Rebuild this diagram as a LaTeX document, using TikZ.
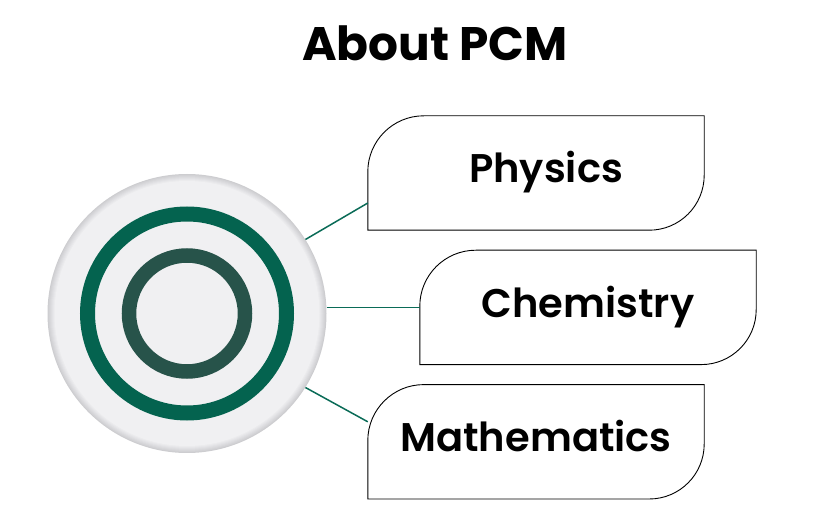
\documentclass[tikz,border=0pt]{standalone}
\usepackage{fontspec}
\setmainfont{Poppins}
\newfontfamily\medfont{Poppins SemiBold}
\usepackage{tikz}
\usetikzlibrary{positioning}
\definecolor{ringgreen}{HTML}{04634F}
\definecolor{ringdark}{HTML}{27534A}
\definecolor{linegreen}{HTML}{0A6B57}
\definecolor{discgray}{HTML}{F1F1F3}
\definecolor{rimgray}{HTML}{CDCDD0}

\begin{document}
\begin{tikzpicture}[
    x=1pt, y=1pt,
    topic/.style={minimum width=336pt, minimum height=114pt, inner sep=0pt, text height=30pt, text depth=10pt, font=\medfont\fontsize{40}{46}\selectfont},
    leaf/.style={draw, line width=0.9pt},
    link/.style={draw=linegreen, line width=1.5pt}
  ]
    \useasboundingbox (0,0) rectangle (820,528);
    \node[font=\bfseries\fontsize{47}{54}\selectfont] (title) at (435,485) {About PCM};
    % hub disc with soft rim
    \node[circle, minimum size=279pt, inner sep=0pt] (hub) at (187,214.5) {};
    \foreach \i [evaluate=\i as \p using 100-\i*14] in {0,...,7}
      \fill[rimgray!\p!discgray] (hub.center) circle[radius=139.5-\i];
    \draw[ringgreen, line width=15pt] (hub.center) circle[radius=99.5];
    \draw[ringdark, line width=14.5pt] (hub.center) circle[radius=58];
    % topic boxes
    \node[topic] (phys) at (536,355) {\hspace*{20pt}Physics};
    \node[topic, below=20pt of phys, xshift=52pt] (chem) {Chemistry};
    \node[topic, below=20pt of chem, xshift=-52pt] (math) {Mathematics};
    \foreach \n in {phys,chem,math}
      \draw[leaf] (\n.south west) -- ([yshift=-56pt]\n.north west)
        arc[start angle=180, end angle=90, radius=56pt] -- (\n.north east)
        -- ([yshift=55pt]\n.south east)
        arc[start angle=0, end angle=-90, radius=55pt] -- cycle;
    % connectors
    \draw[link] (hub.32) -- ([yshift=-30pt]phys.west);
    \draw[link] (hub.east |- chem.west) -- (chem.west);
    \draw[link] (hub.-32) -- ([yshift=20pt]math.west);
  \end{tikzpicture}
\end{document}
